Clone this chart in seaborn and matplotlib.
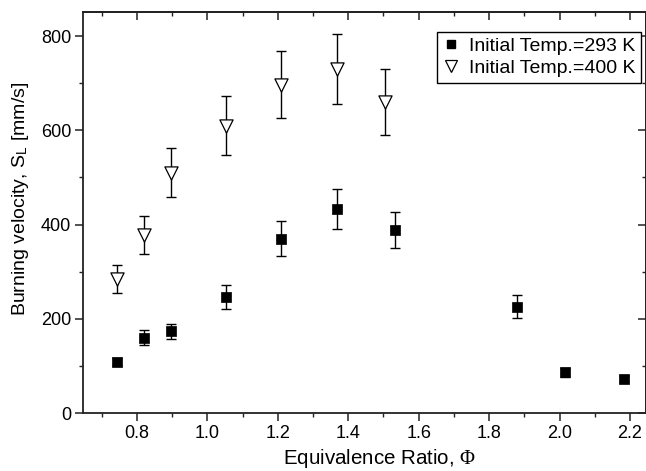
import numpy as np
import pandas as pd
import matplotlib
matplotlib.use("Agg")
import matplotlib.pyplot as plt
import seaborn as sns
from matplotlib.ticker import MultipleLocator
from matplotlib.lines import Line2D

# ---- data ----
phi_293 = [0.744, 0.820, 0.897, 1.053, 1.209, 1.367, 1.533, 1.880, 2.016, 2.184]
sl_293 = [109, 160, 173, 246, 370, 433, 389, 226, 86, 72]
err_293 = [8, 16, 16, 25, 37, 43, 38, 25, 9, 6]

phi_400 = [0.744, 0.820, 0.897, 1.053, 1.209, 1.367, 1.503]
sl_400 = [285, 378, 510, 610, 697, 730, 660]
err_400 = [30, 40, 52, 63, 71, 74, 70]

labels = ["Initial Temp.=293 K", "Initial Temp.=400 K"]
xticks = [0.8, 1.0, 1.2, 1.4, 1.6, 1.8, 2.0, 2.2]
yticks = [0, 200, 400, 600, 800]

df293 = pd.DataFrame({"phi": phi_293, "SL": sl_293, "err": err_293, "set": labels[0]})
df400 = pd.DataFrame({"phi": phi_400, "SL": sl_400, "err": err_400, "set": labels[1]})

sns.set_theme(style="ticks")
plt.rcParams["font.family"] = ["Liberation Sans", "DejaVu Sans"]
plt.rcParams["mathtext.fontset"] = "custom"
plt.rcParams["mathtext.rm"] = "Liberation Serif"
plt.rcParams["mathtext.sf"] = "Liberation Sans"
plt.rcParams["mathtext.it"] = "Liberation Serif:italic"
plt.rcParams["text.color"] = "black"
plt.rcParams["axes.labelcolor"] = "black"
plt.rcParams["xtick.color"] = "black"
plt.rcParams["ytick.color"] = "black"

fig = plt.figure(figsize=(6.46, 4.71), dpi=100)
ax = fig.add_axes([83 / 646, 58 / 471, (645.5 - 83) / 646, (413 - 12) / 471])

# error bars
for d in (df293, df400):
    ax.errorbar(d["phi"], d["SL"], yerr=d["err"], fmt="none", ecolor="black",
                elinewidth=1.0, capsize=3.3, capthick=1.0, zorder=2)

sns.scatterplot(data=df293, x="phi", y="SL", marker="s", s=60, color="black",
                edgecolor="black", linewidth=0.5, ax=ax, zorder=3, legend=False)
sns.scatterplot(data=df400, x="phi", y="SL", marker="v", s=90, facecolor="white",
                edgecolor="black", linewidth=0.9, ax=ax, zorder=3, legend=False)

ax.set_xlim(0.647, 2.244)
ax.set_ylim(0, 851)
ax.set_xticks(xticks)
ax.set_xticklabels([f"{t:.1f}" for t in xticks])
ax.set_yticks(yticks)
ax.xaxis.set_minor_locator(MultipleLocator(0.1))
ax.yaxis.set_minor_locator(MultipleLocator(100))

for s in ax.spines.values():
    s.set_visible(True)
    s.set_linewidth(1.3)
    s.set_color("#222222")

ax.tick_params(axis="both", which="major", labelsize=13, length=5.5, width=1.1,
               color="#222222", pad=3, direction="out")
ax.tick_params(axis="both", which="minor", length=3, width=1.0, color="#222222",
               direction="out")

# inward ticks on top and right (no labels)
secx = ax.secondary_xaxis("top")
secx.set_xticks(xticks)
secx.xaxis.set_minor_locator(MultipleLocator(0.1))
secx.tick_params(which="major", direction="in", length=5.5, width=1.1,
                 color="#222222", labeltop=False, labelbottom=False)
secx.tick_params(which="minor", direction="in", length=3, width=1.0, color="#222222")
secx.spines["top"].set_linewidth(1.3)
secx.spines["top"].set_color("#222222")
secy = ax.secondary_yaxis("right")
secy.set_yticks(yticks)
secy.yaxis.set_minor_locator(MultipleLocator(100))
secy.tick_params(which="major", direction="in", length=5.5, width=1.1,
                 color="#222222", labelright=False, labelleft=False)
secy.tick_params(which="minor", direction="in", length=3, width=1.0, color="#222222")
secy.spines["right"].set_linewidth(1.3)
secy.spines["right"].set_color("#222222")

ax.set_xlabel(r"Equivalence Ratio, $\Phi$", fontsize=14.8)
ax.xaxis.set_label_coords(0.528, -0.085)
ax.set_ylabel(r"Burning velocity, S$_{\mathsf{L}}$ [mm/s]", fontsize=14)
ax.yaxis.set_label_coords(-0.093, 0.535)

handles = [
    Line2D([], [], ls="none", marker="s", ms=6, mfc="black", mec="black"),
    Line2D([], [], ls="none", marker="v", ms=8, mfc="white", mec="black", mew=0.9),
]
leg = ax.legend(handles, labels, loc="upper right", fontsize=14, frameon=True,
                fancybox=False, edgecolor="black", framealpha=1,
                handlelength=0.8, handletextpad=0.5,
                borderpad=0.3, labelspacing=0.2, bbox_to_anchor=(1.009, 0.975))
leg.get_frame().set_linewidth(1.0)

fig.savefig("out.png", dpi=100)
